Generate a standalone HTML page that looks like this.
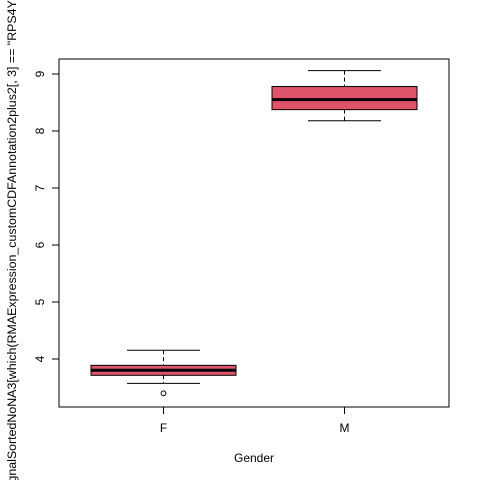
<!DOCTYPE html>
<html><head><meta charset="utf-8"><style>
html,body{margin:0;padding:0;background:#fff;width:480px;height:480px;overflow:hidden}
svg text{font-family:"Liberation Sans",Arial,sans-serif;font-size:12px;fill:#000}
</style></head><body>
<svg id="chart" width="480" height="480" xmlns="http://www.w3.org/2000/svg">
<rect x="0" y="0" width="480" height="480" fill="#fff"/>
<rect x="59" y="59" width="390" height="348" fill="none" stroke="#000"/>
<g id="yaxis"></g>
<g id="xaxis"></g>
<g id="boxes"></g>
<text x="254" y="462" text-anchor="middle">Gender</text>
<text transform="translate(16,234) rotate(-90)" text-anchor="middle" style="font-size:12.4px">SignalSortedNoNA3[which(RMAExpression_customCDFAnnotation2plus2[, 3] == "RPS4Y1"), ]</text>
</svg>
<script>
const categories = ["F","M"];
const whiskerLow = [3.573, 8.18];
const q1 = [3.714, 8.375];
const medians = [3.802, 8.55];
const q3 = [3.889, 8.78];
const whiskerHigh = [4.153, 9.06];
const outliers = [[3.398], []];
const yTicks = [4,5,6,7,8,9];

const NS="http://www.w3.org/2000/svg";
function y(v){return 359-(v-4)*57;}
function x(i){return 163.5+i*181;}
function mk(tag,attrs,parent){const e=document.createElementNS(NS,tag);for(const k in attrs)e.setAttribute(k,attrs[k]);parent.appendChild(e);return e;}
const ya=document.getElementById('yaxis'), xa=document.getElementById('xaxis'), bx=document.getElementById('boxes');
mk('line',{x1:59,x2:59,y1:y(yTicks[0]),y2:y(yTicks[yTicks.length-1]),stroke:'#000'},ya);
yTicks.forEach(t=>{
  const l=mk('line',{x1:52,x2:59,y1:y(t),y2:y(t),stroke:'#000'},ya);
  
  
  const tx=mk('text',{transform:`translate(44,${y(t)}) rotate(-90)`,'text-anchor':'middle'},ya);
  tx.textContent=t;
  
  
});
mk('line',{x1:x(0),x2:x(1),y1:407,y2:407,stroke:'#000'},xa);
categories.forEach((c,i)=>{
  const l=mk('line',{x1:x(i),x2:x(i),y1:407,y2:414,stroke:'#000'},xa);
  
  
  const tx=mk('text',{x:x(i),y:432,'text-anchor':'middle'},xa);
  tx.textContent=c;
  
  
  const g=mk('g',{},bx);
  
  
  const cx=x(i),hw=72.5,cw=36.5;
  mk('line',{x1:cx,x2:cx,y1:y(whiskerHigh[i]),y2:y(q3[i]),stroke:'#000','stroke-dasharray':'4,3'},g);
  mk('line',{x1:cx,x2:cx,y1:y(q1[i]),y2:y(whiskerLow[i]),stroke:'#000','stroke-dasharray':'4,3'},g);
  mk('line',{x1:cx-cw,x2:cx+cw,y1:y(whiskerHigh[i]),y2:y(whiskerHigh[i]),stroke:'#000'},g);
  mk('line',{x1:cx-cw,x2:cx+cw,y1:y(whiskerLow[i]),y2:y(whiskerLow[i]),stroke:'#000'},g);
  mk('rect',{x:cx-hw,y:y(q3[i]),width:2*hw,height:y(q1[i])-y(q3[i]),fill:'#DF536B',stroke:'#000'},g);
  mk('line',{x1:cx-hw,x2:cx+hw,y1:y(medians[i]),y2:y(medians[i]),stroke:'#000','stroke-width':3},g);
  outliers[i].forEach(o=>{
    const p=mk('circle',{cx:cx,cy:y(o),r:2.4,fill:'none',stroke:'#000'},g);
    
    
  });
});
</script>
</body></html>
